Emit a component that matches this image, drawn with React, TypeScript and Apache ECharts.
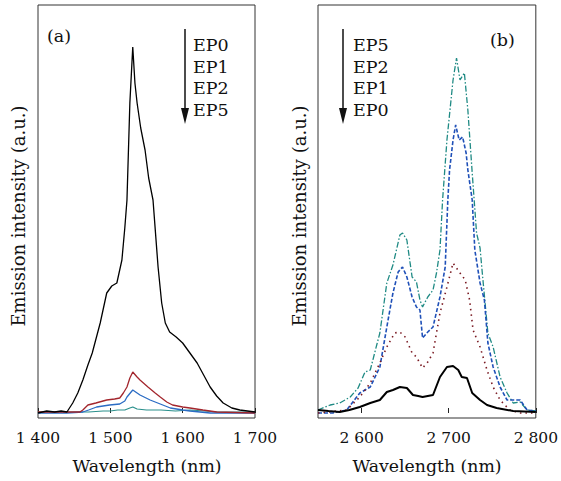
import React, { useEffect, useRef } from "react";
import * as echarts from "echarts";

// Panel (a): ~1.5 µm emission
const ep0A: [number, number][] = [
  [1400, 0], [1412, 2], [1423, 1], [1432, 2], [1440, 1], [1448, 10], [1455, 20], [1462, 33], [1469, 48],
  [1475, 60], [1486, 90], [1495, 120], [1502, 127], [1509, 130], [1516, 153], [1520, 185],
  [1523, 213], [1527, 310], [1531, 366], [1534, 330], [1537, 310], [1542, 285], [1548, 263],
  [1553, 235], [1559, 213], [1566, 146], [1571, 110], [1576, 90], [1582, 81], [1591, 76],
  [1600, 70], [1610, 60], [1620, 50], [1629, 38], [1638, 26], [1647, 17], [1656, 10],
  [1668, 5], [1679, 3], [1700, 1],
];
const ep1A: [number, number][] = [
  [1400, 1], [1440, 1], [1458, 1], [1462, 3], [1469, 8], [1480, 10], [1490, 12], [1495, 13],
  [1506, 14], [1513, 15], [1518, 20], [1523, 26], [1527, 35], [1531, 41], [1537, 36],
  [1541, 33], [1552, 26], [1562, 20], [1569, 16], [1578, 11], [1586, 8], [1600, 6],
  [1610, 5], [1628, 3], [1647, 1], [1700, 0],
];
const ep2A: [number, number][] = [
  [1400, 0], [1440, 0], [1462, 1], [1470, 3], [1481, 6], [1499, 8], [1513, 9], [1520, 12],
  [1523, 16], [1531, 23], [1541, 18], [1555, 13], [1569, 9], [1583, 5], [1600, 3],
  [1610, 2], [1638, 0], [1700, 0],
];
const ep5A: [number, number][] = [
  [1400, 1], [1440, 1], [1470, 1], [1490, 2], [1500, 2], [1510, 3], [1520, 3], [1527, 5],
  [1531, 6], [1537, 4], [1550, 3], [1570, 3], [1590, 2], [1610, 3], [1630, 2], [1650, 1],
  [1700, 1],
];

// Panel (b): ~2.7 µm emission
const ep5B: [number, number][] = [
  [2550, 3], [2564, 8], [2575, 10], [2587, 16], [2596, 25], [2604, 41], [2610, 43],
  [2618, 70], [2621, 80], [2629, 130], [2636, 148], [2644, 178], [2647, 180], [2652, 173],
  [2658, 136], [2663, 131], [2667, 113], [2670, 106], [2676, 116], [2682, 123], [2686, 140],
  [2690, 163], [2693, 213], [2698, 273], [2705, 333], [2709, 355], [2713, 333], [2718, 340],
  [2722, 303], [2727, 240], [2732, 180], [2736, 165], [2739, 136], [2745, 80], [2751, 66],
  [2759, 36], [2767, 20], [2774, 10], [2782, 11], [2790, 3], [2800, 2],
];
const ep2B: [number, number][] = [
  [2550, 0], [2567, 0], [2583, 3], [2598, 20], [2610, 26], [2621, 46], [2629, 86],
  [2636, 120], [2642, 141], [2647, 146], [2652, 136], [2658, 116], [2663, 106], [2667, 103],
  [2670, 75], [2676, 81], [2682, 86], [2690, 116], [2696, 146], [2699, 213], [2701, 243],
  [2705, 273], [2708, 288], [2712, 273], [2716, 276], [2720, 260], [2722, 243], [2727, 213],
  [2730, 163], [2736, 130], [2741, 113], [2745, 70], [2751, 46], [2759, 26], [2767, 13],
  [2782, 13], [2790, 3], [2800, 2],
];
const ep1B: [number, number][] = [
  [2550, 0], [2583, 3], [2598, 16], [2610, 30], [2621, 50], [2629, 66], [2638, 80],
  [2644, 81], [2650, 76], [2658, 60], [2663, 56], [2670, 45], [2676, 51], [2682, 60],
  [2690, 100], [2698, 126], [2705, 150], [2713, 140], [2719, 133], [2724, 113], [2728, 83],
  [2736, 66], [2744, 43], [2751, 26], [2759, 13], [2770, 3], [2782, 0], [2800, 0],
];
const ep0B: [number, number][] = [
  [2550, 3], [2562, 2], [2575, 1], [2586, 3], [2598, 6], [2610, 10], [2621, 13], [2629, 21],
  [2636, 23], [2644, 26], [2652, 25], [2659, 18], [2665, 17], [2670, 16], [2676, 17],
  [2682, 18], [2690, 36], [2698, 46], [2705, 47], [2711, 43], [2715, 36], [2721, 35],
  [2727, 20], [2736, 13], [2744, 8], [2755, 5], [2774, 2], [2800, 1],
];

const legendA = ["EP0", "EP1", "EP2", "EP5"];
const legendB = ["EP5", "EP2", "EP1", "EP0"];
const ticksA = [1400, 1500, 1600, 1700];
const ticksB = [2600, 2700, 2800];

const FONT = "DejaVu Serif";
const fmt = (v: number) => `${Math.floor(v / 1000)} ${String(v % 1000).padStart(3, "0")}`;

export default function App() {
  const ref = useRef<HTMLDivElement>(null);
  useEffect(() => {
    if (!ref.current) return;
    const chart = echarts.init(ref.current, null, { renderer: "svg" });
    const xAxisCommon = (min: number, max: number, ticks: number[], gridIndex: number) => ({
      type: "value",
      gridIndex,
      min,
      max,
      axisLine: { show: false },
      splitLine: { show: false },
      axisTick: { show: true, inside: true, length: 5, customValues: ticks, lineStyle: { color: "#222", width: 1 } },
      axisLabel: {
        customValues: ticks,
        formatter: (v: number) => fmt(v),
        fontFamily: FONT,
        fontSize: 15.5,
        color: "#111",
        margin: 12,
        showMinLabel: true,
        showMaxLabel: true,
      },
    });
    const yAxisCommon = (gridIndex: number) => ({
      type: "value",
      gridIndex,
      min: -5,
      max: 408,
      axisLine: { show: false },
      axisTick: { show: false },
      axisLabel: { show: false },
      splitLine: { show: false },
    });
    const line = (data: [number, number][], color: string, idx: number, width: number, type: any) => ({
      type: "line",
      xAxisIndex: idx,
      yAxisIndex: idx,
      data,
      showSymbol: false,
      symbol: "none",
      lineStyle: { color, width, type },
      z: 3,
    });
    const legendText = (items: string[], x: number) =>
      items.map((t, i) => ({
        type: "text",
        x,
        y: 45 + i * 21.5,
        style: { text: t, font: `17.5px ${FONT}`, fill: "#111", textVerticalAlign: "middle" },
      }));
    const arrow = (x: number) => [
      { type: "line", shape: { x1: x, y1: 29, x2: x, y2: 112 }, style: { stroke: "#111", lineWidth: 1.5 } },
      { type: "polygon", shape: { points: [[x - 4, 108], [x + 4, 108], [x, 124]] }, style: { fill: "#111" } },
    ];
    chart.setOption({
      animation: false,
      backgroundColor: "#fff",
      grid: [
        { left: 38, top: 5, width: 217, height: 413, show: true, borderColor: "#333", borderWidth: 1 },
        { left: 318, top: 5, width: 218, height: 413, show: true, borderColor: "#333", borderWidth: 1 },
      ],
      xAxis: [xAxisCommon(1400, 1700, ticksA, 0), xAxisCommon(2550, 2800, ticksB, 1)],
      yAxis: [yAxisCommon(0), yAxisCommon(1)],
      series: [
        line(ep5A, "#2a908c", 0, 1.2, "solid"),
        line(ep2A, "#2b6cc4", 0, 1.3, "solid"),
        line(ep1A, "#a3262d", 0, 1.3, "solid"),
        line(ep0A, "#000", 0, 1.3, "solid"),
        line(ep5B, "#1f8a84", 1, 1.3, [6, 2, 1.5, 2]),
        line(ep2B, "#1f50b8", 1, 1.6, [4, 2]),
        line(ep1B, "#7a1a22", 1, 1.6, [1.5, 4]),
        line(ep0B, "#000", 1, 2, "solid"),
      ],
      graphic: [
        { type: "text", x: 47, y: 36, style: { text: "(a)", font: `17.5px ${FONT}`, fill: "#111", textVerticalAlign: "middle" } },
        { type: "text", x: 490, y: 40, style: { text: "(b)", font: `17.5px ${FONT}`, fill: "#111", textVerticalAlign: "middle" } },
        ...legendText(legendA, 193),
        ...legendText(legendB, 353),
        ...arrow(185),
        ...arrow(343),
        {
          type: "text", x: 18, y: 216, rotation: Math.PI / 2,
          style: { text: "Emission intensity (a.u.)", font: `18px ${FONT}`, fill: "#111", textAlign: "center", textVerticalAlign: "middle" },
        },
        {
          type: "text", x: 299, y: 216, rotation: Math.PI / 2,
          style: { text: "Emission intensity (a.u.)", font: `18px ${FONT}`, fill: "#111", textAlign: "center", textVerticalAlign: "middle" },
        },
        { type: "text", x: 147, y: 466, style: { text: "Wavelength (nm)", font: `17.3px ${FONT}`, fill: "#111", textAlign: "center", textVerticalAlign: "middle" } },
        { type: "text", x: 427, y: 466, style: { text: "Wavelength (nm)", font: `17.3px ${FONT}`, fill: "#111", textAlign: "center", textVerticalAlign: "middle" } },
      ],
    });
    return () => chart.dispose();
  }, []);
  return <div ref={ref} style={{ width: 561, height: 481, position: "fixed", left: 0, top: 0 }} />;
}
